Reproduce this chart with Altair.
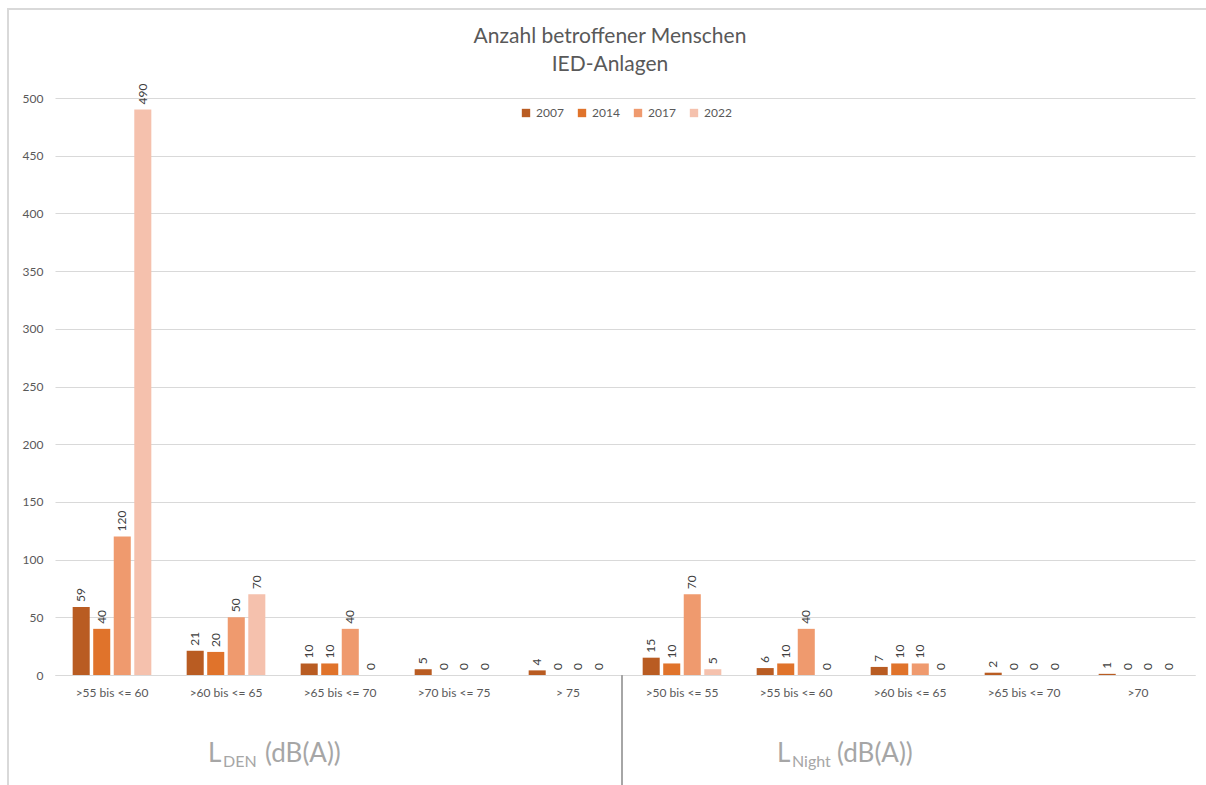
import altair as alt
import pandas as pd

years = ["2007", "2014", "2017", "2022"]
cat_den = [">55 bis <= 60", ">60 bis <= 65", ">65 bis <= 70", ">70 bis <= 75", "> 75"]
cat_night = [">50 bis <= 55", ">55 bis <= 60", ">60 bis <= 65", ">65 bis <= 70", ">70"]

den_2007 = [59, 21, 10, 5, 4]
den_2014 = [40, 20, 10, 0, 0]
den_2017 = [120, 50, 40, 0, 0]
den_2022 = [490, 70, 0, 0, 0]
night_2007 = [15, 6, 7, 2, 1]
night_2014 = [10, 10, 10, 0, 0]
night_2017 = [70, 40, 10, 0, 0]
night_2022 = [5, 0, 0, 0, 0]

title_lines = ["Anzahl betroffener Menschen", "IED-Anlagen"]

colors = ["#B95C22", "#E0732B", "#EF9A6E", "#F5C1AD"]

den_series = [den_2007, den_2014, den_2017, den_2022]
night_series = [night_2007, night_2014, night_2017, night_2022]

rows = []
order = []
for c in cat_den:
    order.append("DEN|" + c)
for c in cat_night:
    order.append("NIGHT|" + c)
for yi, y in enumerate(years):
    for ci, c in enumerate(cat_den):
        rows.append({"cat": "DEN|" + c, "year": y, "value": den_series[yi][ci]})
    for ci, c in enumerate(cat_night):
        rows.append({"cat": "NIGHT|" + c, "year": y, "value": night_series[yi][ci]})
df = pd.DataFrame(rows)

FONT = "Lato"
GREY = "#595959"

x_enc = alt.X("cat:N", sort=order,
              scale=alt.Scale(paddingInner=0.31, paddingOuter=0.155),
              axis=alt.Axis(title=None, labelAngle=0, ticks=False, labelPadding=12,
                            labelExpr="split(datum.label, '|')[1]",
                            labelColor=GREY, labelFont=FONT, labelFontSize=12,
                            domainColor="#D9D9D9", labelLimit=200))
xoff = alt.XOffset("year:N", sort=years, scale=alt.Scale(paddingInner=0.17, paddingOuter=0))
y_enc = alt.Y("value:Q", scale=alt.Scale(domain=[0, 500]),
              axis=alt.Axis(title=None, values=list(range(0, 501, 50)), domain=False, ticks=False,
                            labelPadding=12, labelColor=GREY, labelFont=FONT, labelFontSize=12,
                            gridColor="#D9D9D9", gridWidth=1))

base = alt.Chart(df)
bars = base.mark_bar().encode(
    x=x_enc, xOffset=xoff, y=y_enc,
    color=alt.Color("year:N", sort=years, scale=alt.Scale(domain=years, range=colors),
                    legend=alt.Legend(title=None, orient="none", direction="horizontal",
                                      legendX=465, legendY=9, symbolType="square", symbolSize=70,
                                      symbolStrokeWidth=0, labelFont=FONT, labelFontSize=12,
                                      labelColor=GREY, columnPadding=12, labelOffset=4)),
)
labels = base.mark_text(angle=270, align="left", baseline="middle", dx=5,
                        font=FONT, fontSize=12, color="#404040").encode(
    x=x_enc, xOffset=xoff, y=y_enc, text="value:Q")


def txt(s, x, y, size, color="#A6A6A6", align="left", baseline="alphabetic"):
    return alt.Chart(pd.DataFrame({"t": [s]})).mark_text(
        align=align, baseline=baseline, font=FONT, fontSize=size, color=color
    ).encode(x=alt.value(x), y=alt.value(y), text="t:N")


ann = [
    txt("L", 153, 664, 26), txt("DEN", 168, 669, 16), txt("(dB(A))", 210, 664, 26),
    txt("L", 722, 664, 26), txt("Night", 737, 669, 16), txt("(dB(A))", 782, 664, 26),
    txt(title_lines[0], 555, -61, 21, color=GREY, align="center", baseline="middle"),
    txt(title_lines[1], 555, -33, 21, color=GREY, align="center", baseline="middle"),
]

sep = alt.Chart(pd.DataFrame({"a": [0]})).mark_rule(color="#A6A6A6", strokeWidth=2).encode(
    x=alt.value(567), y=alt.value(577), y2=alt.value(690))

frame = alt.Chart(pd.DataFrame({"a": [0]})).mark_rect(
    fill="transparent", stroke="#D9D9D9", strokeWidth=2).encode(
    x=alt.value(-47), x2=alt.value(1160), y=alt.value(-89), y2=alt.value(700))

chart = alt.layer(frame, bars, labels, sep, *ann).properties(
    width=1140, height=577,
    background="white",
    padding={"left": 55, "top": 98, "right": 11, "bottom": 110},
    autosize=alt.AutoSizeParams(type="none"),
).configure_view(strokeWidth=0, stroke="transparent")

chart.save("out.html", embed_options={"renderer": "svg", "actions": False})
